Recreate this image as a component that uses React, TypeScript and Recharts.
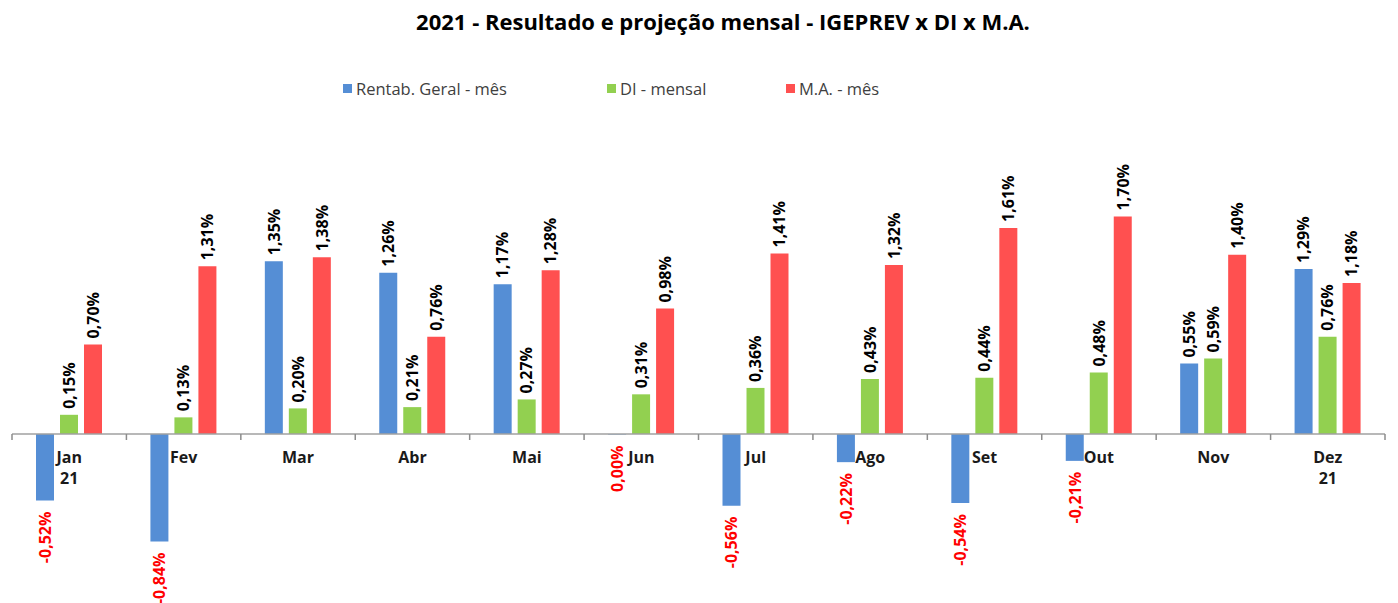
import React from 'react';
import { BarChart, Bar, XAxis, YAxis, ReferenceLine, ReferenceDot, LabelList } from 'recharts';

const months = ['Jan', 'Fev', 'Mar', 'Abr', 'Mai', 'Jun', 'Jul', 'Ago', 'Set', 'Out', 'Nov', 'Dez'];
const yearLine = ['21', '', '', '', '', '', '', '', '', '', '', '21'];
const rentab = [-0.52, -0.84, 1.35, 1.26, 1.17, -0.004, -0.56, -0.22, -0.54, -0.21, 0.55, 1.29];
const di = [0.15, 0.13, 0.2, 0.21, 0.27, 0.31, 0.36, 0.43, 0.44, 0.48, 0.59, 0.76];
const ma = [0.7, 1.31, 1.38, 0.76, 1.28, 0.98, 1.41, 1.32, 1.61, 1.7, 1.4, 1.18];

const seriesNames = ['Rentab. Geral - mês', 'DI - mensal', 'M.A. - mês'];
const seriesColors = ['#558ED5', '#92D050', '#FF5050'];
const legendLeft = [343, 607, 786];

const data = months.map((m, i) => ({ month: m, year: yearLine[i], rentab: rentab[i], di: di[i], ma: ma[i] }));

const W = 1398;
const H = 603;
const margin = { top: 178, right: 13, bottom: 41, left: 12 };
const bandW = (W - margin.left - margin.right) / months.length;
const FONT = '"Open Sans", "Noto Sans", sans-serif';

const fmt = (v: number) => {
  const s = Math.abs(v) < 0.005 ? '0.00' : v.toFixed(2);
  return s.replace('.', ',') + '%';
};

const ValueLabel = (props: any) => {
  const { x, y, width, height, value } = props;
  const v = Number(value);
  const cx = Number(x) + Number(width) / 2;
  const y1 = Number(y);
  const y2 = Number(y) + Number(height);
  const top = Math.min(y1, y2);
  const bottom = Math.max(y1, y2);
  const neg = v < 0;
  const txt = fmt(v);
  if (neg) {
    return (
      <text
        transform={`translate(${cx},${bottom + 11}) rotate(-90)`}
        textAnchor="end"
        dy="0.36em"
        fill="#FF0000"
        fontFamily={FONT}
        fontWeight={700}
        fontSize={16}
      >
        {txt}
      </text>
    );
  }
  return (
    <text
      transform={`translate(${cx},${top - 6}) rotate(-90)`}
      textAnchor="start"
      dy="0.36em"
      fill="#000000"
      fontFamily={FONT}
      fontWeight={700}
      fontSize={16}
    >
      {txt}
    </text>
  );
};

const makeTickShape = (idx: number) => (props: any) => {
  const { cx, cy } = props;
  const left = cx - bandW / 2;
  const right = cx + bandW / 2;
  return (
    <g>
      <line x1={left} y1={cy} x2={left} y2={cy + 6} stroke="#8c8c8c" strokeWidth={1.5} />
      {idx === months.length - 1 && (
        <line x1={right} y1={cy} x2={right} y2={cy + 6} stroke="#8c8c8c" strokeWidth={1.5} />
      )}
      <text x={cx} y={cy + 29} textAnchor="middle" fontFamily={FONT} fontWeight={700} fontSize={16} fill="#1a1a1a">
        {months[idx]}
      </text>
      {yearLine[idx] && (
        <text x={cx} y={cy + 50} textAnchor="middle" fontFamily={FONT} fontWeight={700} fontSize={16} fill="#1a1a1a">
          {yearLine[idx]}
        </text>
      )}
    </g>
  );
};

export default function App() {
  return (
    <div style={{ position: 'absolute', left: 0, top: 0, width: W, height: H, background: '#fff' }}>
      <div
        style={{
          position: 'absolute',
          left: 0,
          top: 6,
          width: W + 48,
          textAlign: 'center',
          fontFamily: FONT,
          fontWeight: 700,
          fontSize: 22,
          color: '#000',
        }}
      >
        2021 - Resultado e projeção mensal - IGEPREV x DI x M.A.
      </div>
      {seriesNames.map((n, i) => (
        <div
          key={n}
          style={{
            position: 'absolute',
            left: legendLeft[i],
            top: 77,
            height: 22,
            display: 'flex',
            alignItems: 'center',
            fontFamily: FONT,
            fontSize: 16.5,
            color: '#404040',
            whiteSpace: 'nowrap',
          }}
        >
          <span style={{ display: 'inline-block', width: 9, height: 9, background: seriesColors[i], marginRight: 4 }} />
          {n}
        </div>
      ))}
      <div style={{ position: 'absolute', left: 0, top: 0 }}>
        <BarChart width={W} height={H} data={data} margin={margin} barCategoryGap={24} barGap={6}>
          <XAxis dataKey="month" hide />
          <YAxis hide domain={[-1, 2]} type="number" allowDataOverflow />
          <Bar dataKey="rentab" fill={seriesColors[0]} isAnimationActive={false}>
            <LabelList dataKey="rentab" content={ValueLabel} />
          </Bar>
          <Bar dataKey="di" fill={seriesColors[1]} isAnimationActive={false}>
            <LabelList dataKey="di" content={ValueLabel} />
          </Bar>
          <Bar dataKey="ma" fill={seriesColors[2]} isAnimationActive={false}>
            <LabelList dataKey="ma" content={ValueLabel} />
          </Bar>
          <ReferenceLine y={0} stroke="#a0a0a0" strokeWidth={1.5} />
          {months.map((m, i) => (
            <ReferenceDot key={m} x={m} y={0} r={1} shape={makeTickShape(i)} />
          ))}
        </BarChart>
      </div>
    </div>
  );
}
